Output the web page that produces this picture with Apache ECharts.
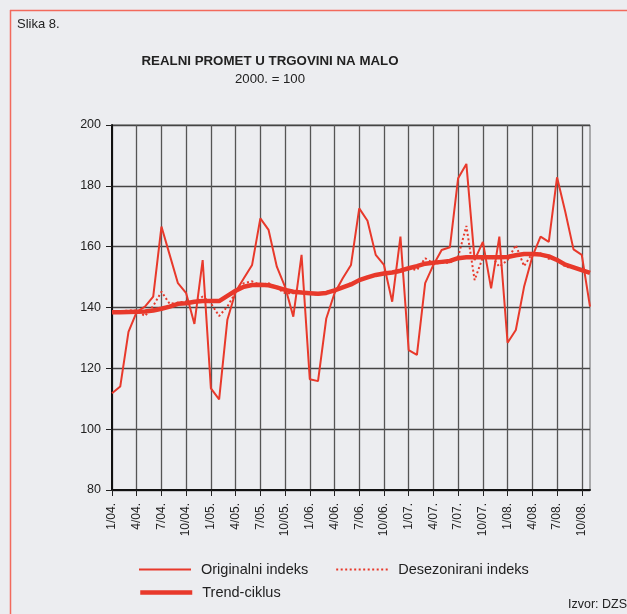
<!DOCTYPE html>
<html>
<head>
<meta charset="utf-8">
<script src="https://cdn.jsdelivr.net/npm/echarts@6/dist/echarts.min.js"></script>
<style>
  html, body { margin: 0; padding: 0; background: #ecedf0; }
  #chart { width: 627px; height: 614px; }
</style>
</head>
<body>
<div id="chart"></div>
<script>
// mjeseci 1/04. - 11/08.
const months = [
  '1/04.', '2/04.', '3/04.', '4/04.', '5/04.', '6/04.', '7/04.', '8/04.', '9/04.', '10/04.', '11/04.', '12/04.',
  '1/05.', '2/05.', '3/05.', '4/05.', '5/05.', '6/05.', '7/05.', '8/05.', '9/05.', '10/05.', '11/05.', '12/05.',
  '1/06.', '2/06.', '3/06.', '4/06.', '5/06.', '6/06.', '7/06.', '8/06.', '9/06.', '10/06.', '11/06.', '12/06.',
  '1/07.', '2/07.', '3/07.', '4/07.', '5/07.', '6/07.', '7/07.', '8/07.', '9/07.', '10/07.', '11/07.', '12/07.',
  '1/08.', '2/08.', '3/08.', '4/08.', '5/08.', '6/08.', '7/08.', '8/08.', '9/08.', '10/08.', '11/08.'
];

const originalni = [
  111.8, 114.0, 132.0, 138.6, 140.3, 143.6, 166.6, 157.3, 148.0, 144.7, 134.6, 155.6,
  113.4, 109.8, 136.0, 145.2, 149.6, 154.0, 169.3, 165.5, 153.4, 146.8, 137.0, 157.3,
  116.4, 115.8, 136.4, 144.7, 149.6, 154.0, 172.6, 168.5, 157.3, 154.0, 141.9, 163.3,
  126.0, 124.4, 148.0, 154.0, 158.9, 159.8, 182.5, 187.2, 155.6, 161.6, 146.3, 163.3,
  128.4, 132.6, 146.8, 156.7, 163.3, 161.6, 182.8, 171.5, 159.1, 157.3, 140.3
];

const desezonirani = [
  138.3, 138.8, 139.0, 139.0, 137.2, 140.5, 145.2, 141.2, 141.6, 142.0, 141.6, 143.6,
  141.4, 137.2, 140.3, 145.0, 148.0, 148.6, 147.4, 148.0, 146.4, 144.7, 144.7, 145.2,
  144.7, 144.1, 145.2, 145.8, 146.8, 148.0, 149.0, 150.0, 150.7, 151.4, 151.4, 151.7,
  152.9, 152.3, 156.2, 154.5, 154.7, 154.7, 156.7, 166.8, 149.0, 156.5, 157.0, 153.4,
  155.6, 160.5, 153.6, 157.8, 157.8, 156.0, 156.0, 153.4, 153.0, 152.3, 151.6
];

const trend = [
  138.4, 138.4, 138.5, 138.6, 138.7, 139.0, 139.6, 140.3, 141.2, 141.4, 141.9, 142.1,
  142.1, 142.1, 143.8, 145.5, 146.8, 147.4, 147.5, 147.3, 146.6, 145.8, 145.2, 144.9,
  144.7, 144.5, 144.8, 145.6, 146.6, 147.6, 149.0, 149.9, 150.7, 151.2, 151.5, 152.1,
  152.9, 153.6, 154.4, 154.7, 155.0, 155.3, 156.2, 156.5, 156.5, 156.5, 156.5, 156.5,
  156.6, 157.2, 157.6, 157.6, 157.4, 156.8, 155.6, 154.1, 153.2, 152.3, 151.4
];

const yTicks = [80, 100, 120, 140, 160, 180, 200];

const RED = '#e8392b';
const FONT = 'Arial, "Liberation Sans", sans-serif';
const quarter = (i) => i % 3 === 0;

const myChart = echarts.init(document.getElementById('chart'));

// legenda - samo linija, bez kruzica
const legendBase = {
  left: 133, itemWidth: 52, itemHeight: 14, itemGap: 27,
  itemStyle: { opacity: 0 },
  textStyle: { fontFamily: FONT, fontSize: 14.5, color: '#222', padding: [0, 0, 0, 5] }
};

const option = {
  backgroundColor: '#ecedf0',
  animation: false,
  textStyle: { fontFamily: FONT, color: '#222' },
  graphic: [
    // okvir
    { type: 'line', shape: { x1: 10, y1: 10.5, x2: 627, y2: 10.5 }, style: { stroke: '#f26a5c', lineWidth: 1.5 } },
    { type: 'line', shape: { x1: 10.5, y1: 10, x2: 10.5, y2: 614 }, style: { stroke: '#f26a5c', lineWidth: 1.5 } },
    { type: 'text', left: 17, top: 18, style: { text: 'Slika 8.', font: '13px ' + FONT, fill: '#222' } },
    { type: 'text', x: 270, y: 61, style: { text: 'REALNI PROMET U TRGOVINI NA MALO', font: 'bold 13.3px ' + FONT, fill: '#222', textAlign: 'center', textVerticalAlign: 'middle' } },
    { type: 'text', x: 270, y: 79, style: { text: '2000. = 100', font: '13.2px ' + FONT, fill: '#222', textAlign: 'center', textVerticalAlign: 'middle' } },
    { type: 'text', x: 627, y: 605, style: { text: 'Izvor: DZS', font: '12.5px ' + FONT, fill: '#222', textAlign: 'right', textVerticalAlign: 'middle' } }
  ],
  grid: {
    left: 112, right: 37, top: 125, bottom: 124,
    show: true, borderColor: '#666', borderWidth: 1, backgroundColor: 'transparent'
  },
  legend: [
    Object.assign({}, legendBase, { top: 557, data: ['Originalni indeks', 'Desezonirani indeks'] }),
    Object.assign({}, legendBase, { top: 580, lineStyle: { width: 4.5 }, data: ['Trend-ciklus'] })
  ],
  xAxis: {
    type: 'category',
    data: months,
    boundaryGap: false,
    axisLine: { lineStyle: { color: '#111', width: 2 } },
    axisTick: { show: true, interval: (i) => quarter(i), length: 6, lineStyle: { color: '#222', width: 1 } },
    axisLabel: {
      interval: (i) => quarter(i), rotate: 90, margin: 13,
      fontFamily: FONT, fontSize: 12, color: '#222'
    },
    splitLine: { show: true, interval: (i) => quarter(i), lineStyle: { color: '#555', width: 1.3 } }
  },
  yAxis: {
    type: 'value',
    min: yTicks[0], max: yTicks[yTicks.length - 1], interval: 20,
    axisLine: { show: true, lineStyle: { color: '#111', width: 2 } },
    axisTick: { show: true, length: 6, lineStyle: { color: '#222' } },
    axisLabel: { margin: 11, fontFamily: FONT, fontSize: 12.5, color: '#222' },
    splitLine: { show: true, lineStyle: { color: '#444', width: 1.3 } }
  },
  series: [
    {
      name: 'Trend-ciklus', type: 'line', data: trend,
      symbol: 'none',
      lineStyle: { color: RED, width: 4.5 }, itemStyle: { color: RED }
    },
    {
      name: 'Desezonirani indeks', type: 'line', data: desezonirani,
      symbol: 'none',
      lineStyle: { color: RED, width: 2, type: [2, 2.5] }, itemStyle: { color: RED }
    },
    {
      name: 'Originalni indeks', type: 'line', data: originalni,
      symbol: 'none',
      lineStyle: { color: RED, width: 2 }, itemStyle: { color: RED }
    }
  ]
};

myChart.setOption(option);
</script>
</body>
</html>
